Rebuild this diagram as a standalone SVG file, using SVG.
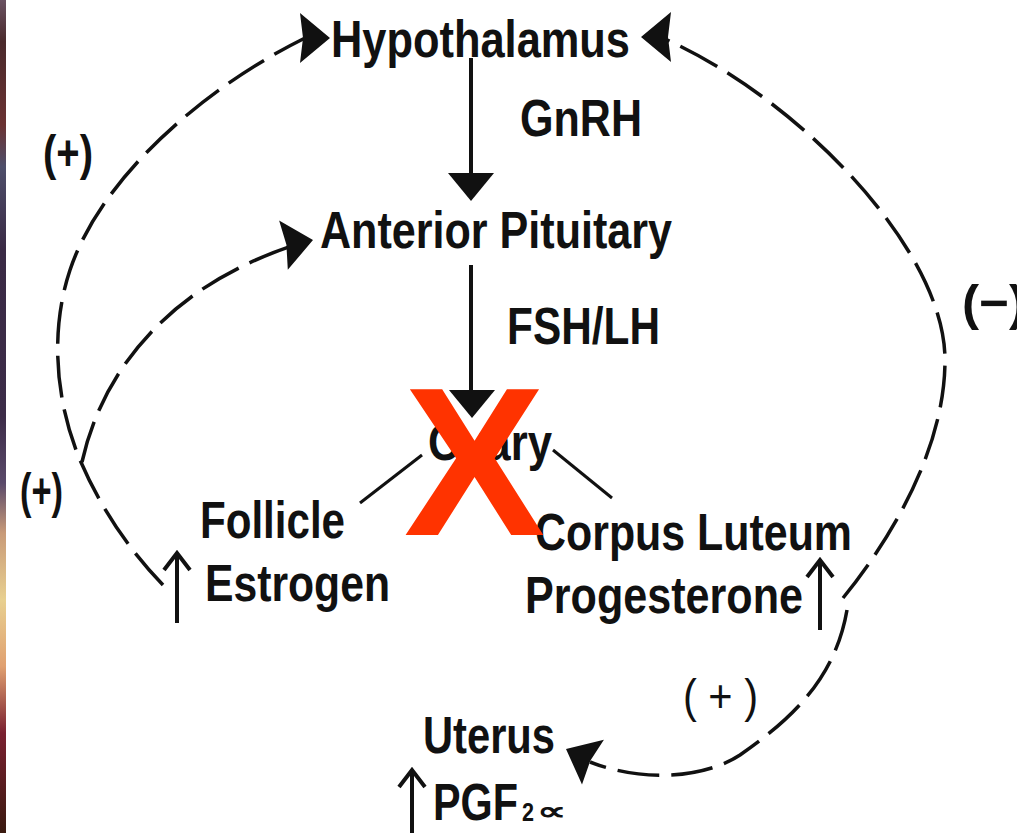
<svg xmlns="http://www.w3.org/2000/svg" width="1017" height="833" viewBox="0 0 1017 833">
<style>
.t{font-family:"Liberation Sans",Arial,sans-serif;font-weight:bold;font-size:52px;fill:#111}
.u{font-family:"Liberation Sans",Arial,sans-serif;font-weight:bold;font-size:26px;fill:#111}
.s{font-family:"Liberation Sans",Arial,sans-serif;font-weight:bold;font-size:50px;fill:#111}
.r{font-family:"Liberation Sans",Arial,sans-serif;font-weight:normal;font-size:46px;fill:#111}
.d{fill:none;stroke:#111;stroke-width:3.5;stroke-dasharray:42 12}
.l{fill:none;stroke:#111;stroke-width:4}
.o{fill:none;stroke:#111;stroke-width:3}
.h{fill:#111}
</style>
<defs>
<linearGradient id="strip" x1="0" y1="0" x2="0" y2="1">
<stop offset="0" stop-color="#6a5262"/>
<stop offset="0.05" stop-color="#4a2a2c"/>
<stop offset="0.15" stop-color="#6a3232"/>
<stop offset="0.2" stop-color="#4e4e6a"/>
<stop offset="0.3" stop-color="#3a2a45"/>
<stop offset="0.5" stop-color="#3c2c48"/>
<stop offset="0.58" stop-color="#5a4a6a"/>
<stop offset="0.64" stop-color="#c89a78"/>
<stop offset="0.72" stop-color="#e8d090"/>
<stop offset="0.8" stop-color="#e0a070"/>
<stop offset="0.88" stop-color="#7a2030"/>
<stop offset="1" stop-color="#3a1a10"/>
</linearGradient>
<path id="ah" d="M0,0 L-30,-25 L-27,0 L-30,25 Z"/>
<path id="tri" d="M0,0 L-28,-23 L-28,23 Z"/>
<path id="up" d="M-13,17 L0,0 L13,17 M0,0 V70"/>
</defs>
<rect width="1017" height="833" fill="#fff"/>
<rect x="0" y="0" width="6" height="833" fill="url(#strip)"/>

<g id="connectors">
<line class="l" x1="471" y1="58" x2="471" y2="180"/>
<use href="#tri" class="h" transform="translate(471,201) rotate(90)"/>
<line class="l" x1="471" y1="265" x2="471" y2="395"/>
<use href="#tri" class="h" transform="translate(472,418) rotate(90)"/>
<line class="o" x1="422" y1="455" x2="360" y2="503"/>
<line class="o" x1="553" y1="450" x2="612" y2="498"/>
<path class="d" d="M163,585 Q110,530 80,460 C55,400 50,330 70,270 C100,180 200,90 305,38"/>
<use href="#ah" class="h" transform="translate(330,38)"/>
<path class="d" d="M82,462 C100,380 160,290 292,246"/>
<use href="#ah" class="h" transform="translate(313,240) rotate(-10)"/>
<path class="d" d="M843,598 C890,540 945,450 945,360 C945,250 800,100 667,40"/>
<use href="#ah" class="h" transform="translate(641,37) rotate(180)"/>
<path class="d" d="M847,610 C835,680 790,720 740,755 C710,775 650,785 590,762"/>
<use href="#ah" class="h" transform="translate(566,749) rotate(206)"/>
<use href="#up" class="l" transform="translate(177,553)"/>
<use href="#up" class="l" transform="translate(820,560)"/>
<use href="#up" class="l" transform="translate(412,770)"/>
</g>

<g id="hypothalamus"><text class="t" x="331" y="57" textLength="299" lengthAdjust="spacingAndGlyphs">Hypothalamus</text></g>
<g id="gnrh"><text class="t" x="520" y="136" textLength="122" lengthAdjust="spacingAndGlyphs">GnRH</text></g>
<g id="anterior-pituitary"><text class="t" x="320" y="248" textLength="352" lengthAdjust="spacingAndGlyphs">Anterior Pituitary</text></g>
<g id="fshlh"><text class="t" x="507" y="344" textLength="153" lengthAdjust="spacingAndGlyphs">FSH/LH</text></g>
<g id="ovary"><text class="t" x="428" y="460" textLength="124" lengthAdjust="spacingAndGlyphs">Ovary</text></g>
<g id="follicle">
<text class="t" x="200" y="538" textLength="145" lengthAdjust="spacingAndGlyphs">Follicle</text>
<text class="t" x="205" y="601" textLength="185" lengthAdjust="spacingAndGlyphs">Estrogen</text>
</g>
<g id="corpus-luteum">
<text class="t" x="535" y="550" textLength="317" lengthAdjust="spacingAndGlyphs">Corpus Luteum</text>
<text class="t" x="525" y="613" textLength="278" lengthAdjust="spacingAndGlyphs">Progesterone</text>
</g>
<g id="uterus">
<text class="t" x="423" y="753" textLength="132" lengthAdjust="spacingAndGlyphs">Uterus</text>
<text class="t" x="433" y="820" textLength="85" lengthAdjust="spacingAndGlyphs">PGF</text>
<text class="u" x="522" y="821" textLength="12" lengthAdjust="spacingAndGlyphs">2</text>
<text class="u" x="537" y="820" textLength="30" lengthAdjust="spacingAndGlyphs">∝</text>
</g>
<g id="labels">
<text class="s" x="43" y="170" textLength="50" lengthAdjust="spacingAndGlyphs">(+)</text>
<text class="s" x="20" y="508" textLength="43" lengthAdjust="spacingAndGlyphs">(+)</text>
<text class="s" x="962" y="320" textLength="64" lengthAdjust="spacingAndGlyphs">(−)</text>
<text class="r" x="683" y="712" textLength="75" lengthAdjust="spacingAndGlyphs">( + )</text>
</g>
<g id="x-mark"><text x="474.5" y="535" text-anchor="middle" style="font-family:'Liberation Sans',Arial,sans-serif;font-weight:bold;font-size:212px;fill:#ff3300">X</text></g>
</svg>
